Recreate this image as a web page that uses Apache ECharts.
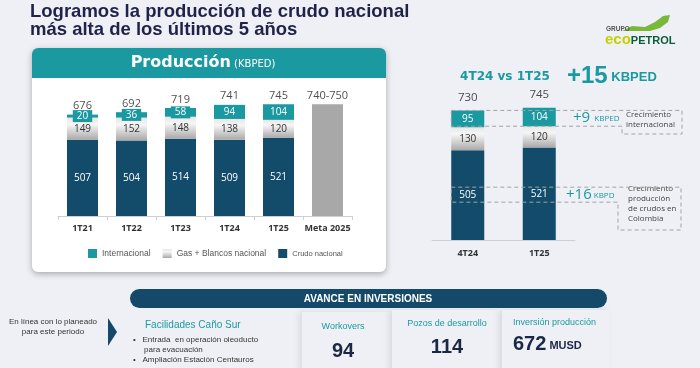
<!DOCTYPE html>
<html><head><meta charset="utf-8">
<script src="https://cdn.jsdelivr.net/npm/echarts@6/dist/echarts.min.js"></script>
<style>html,body{margin:0;padding:0;background:#eef0f5}#c{width:700px;height:368px}</style>
</head><body><div id="c"></div>
<script>
// ---- data: annual first-quarter production (KBPED) ----
const categories = ['1T21', '1T22', '1T23', '1T24', '1T25', 'Meta 2025'];
const crudoNacional = [507, 504, 514, 509, 521, null];
const gasBlancos = [149, 152, 148, 138, 120, null];
const internacional = [20, 36, 58, 94, 104, null];
const meta2025 = [null, null, null, null, null, 745];
const totals = [676, 692, 719, 741, 745, 745];
const totalLabels = ['676', '692', '719', '741', '745', '740-750'];

// ---- data: quarter comparison ----
const qCategories = ['4T24', '1T25'];
const qCrudo = [505, 521];
const qGas = [130, 120];
const qInter = [95, 104];
const qTotals = [730, 745];

const TEAL = '#1b99a1', NAVY = '#134b6a', GRAYBAR = '#a8a8a8';
const gasGrad = new echarts.graphic.LinearGradient(0, 0, 0, 1, [
  {offset: 0, color: '#e6e6e6'}, {offset: 0.3, color: '#f6f6f6'}, {offset: 1, color: '#a9a9a9'}]);
const F = 'Liberation Sans';

const chart = echarts.init(document.getElementById('c'), null, {renderer: 'canvas'});

const innerLbl = (color) => ({show: true, position: 'inside', color: color, fontSize: 10, fontFamily: 'Open Sans'});

const option = {
  backgroundColor: '#eef0f5',
  animation: false,
  textStyle: {fontFamily: F},
  grid: [
    {left: 58, right: 348, top: 96, bottom: 152},
    {left: 432, right: 125, top: 98, bottom: 128}
  ],
  legend: {
    left: 83, top: 244, itemWidth: 9, itemHeight: 9, itemGap: 12, icon: 'rect',
    textStyle: {fontSize: 8.5, color: '#555', fontFamily: F},
    data: ['Internacional', 'Gas + Blancos nacional', {name: 'Crudo nacional', textStyle: {fontSize: 7.5}}]
  },
  xAxis: [
    {type: 'category', gridIndex: 0, data: categories,
     axisLine: {lineStyle: {color: '#cfcfcf'}}, axisTick: {show: true, length: 4, lineStyle: {color: '#cfcfcf'}},
     axisLabel: {interval: 0, fontSize: 9, fontWeight: 'bold', color: '#333', margin: 8, fontFamily: 'Open Sans'}},
    {type: 'category', gridIndex: 1, data: qCategories,
     axisLine: {lineStyle: {color: '#cfcfcf'}}, axisTick: {show: false},
     axisLabel: {interval: 0, fontSize: 9, fontWeight: 'bold', color: '#333', margin: 9, fontFamily: 'Open Sans'}}
  ],
  yAxis: [
    {type: 'value', gridIndex: 0, min: 0, max: 800, show: false},
    {type: 'value', gridIndex: 1, min: 0, max: 800, show: false}
  ],
  series: [
    {name: 'Crudo nacional', type: 'bar', stack: 'a', barWidth: 31, data: crudoNacional,
     itemStyle: {color: NAVY}, label: innerLbl('#fff')},
    {name: 'Gas + Blancos nacional', type: 'bar', stack: 'a', data: gasBlancos,
     itemStyle: {color: gasGrad}, label: innerLbl('#333')},
    {name: 'Internacional', type: 'bar', stack: 'a', data: internacional,
     itemStyle: {color: TEAL},
     label: Object.assign(innerLbl('#fff'), {backgroundColor: TEAL, padding: [1, 4]})},
    {name: 'Meta', type: 'bar', stack: 'a', data: meta2025, itemStyle: {color: GRAYBAR}},
    {name: 'Totales', type: 'scatter', data: totals, symbolSize: 0, silent: true,
     label: {show: true, position: 'top', distance: 3, fontSize: 11, color: '#222', fontFamily: 'Open Sans',
             formatter: p => totalLabels[p.dataIndex]}},

    {name: 'qCrudo', type: 'bar', stack: 'b', xAxisIndex: 1, yAxisIndex: 1, barWidth: 33, data: qCrudo,
     itemStyle: {color: NAVY}, label: innerLbl('#fff')},
    {name: 'qGas', type: 'bar', stack: 'b', xAxisIndex: 1, yAxisIndex: 1, data: qGas,
     itemStyle: {color: gasGrad}, label: innerLbl('#333')},
    {name: 'qInter', type: 'bar', stack: 'b', xAxisIndex: 1, yAxisIndex: 1, data: qInter,
     itemStyle: {color: TEAL}, label: innerLbl('#fff')},
    {name: 'qTotales', type: 'scatter', xAxisIndex: 1, yAxisIndex: 1, data: qTotals, symbolSize: 0, silent: true,
     label: {show: true, position: 'top', distance: 7, fontSize: 11.5, color: '#222', fontFamily: 'Open Sans'}}
  ]
};

const staticGraphics = [
  // title
  {type: 'text', left: 30, top: 2, z: 100, style: {text: 'Logramos la producción de crudo nacional', fontSize: 18.5, fontWeight: 'bold', fill: '#1f2249', fontFamily: F}},
  {type: 'text', left: 30, top: 20, z: 100, style: {text: 'más alta de los últimos 5 años', fontSize: 18.5, fontWeight: 'bold', fill: '#1f2249', fontFamily: F}},
  // logo
  {type: 'polygon', z: 100, shape: {points: [[622,31],[632,26],[645,27],[655,22],[663,16],[670,15],[668,22],[660,28],[650,31],[640,31]]}, style: {fill: '#7ab83a'}},
  {type: 'text', left: 606, top: 26, z: 100, style: {text: 'GRUPO', fontSize: 6.5, fontWeight: 'bold', fill: '#555', fontFamily: F}},
  {type: 'text', left: 605, top: 32, z: 100, style: {text: '{a|eco}{b|PETROL}', fontFamily: F,
     rich: {a: {fontSize: 15, fontWeight: 'bold', fill: '#c5d100'}, b: {fontSize: 11, fontWeight: 'bold', fill: '#0b5d38', padding: [2, 0, 0, 0]}}}},
  // left card
  {type: 'rect', z: 0, shape: {x: 32, y: 48, width: 354, height: 224, r: 6},
   style: {fill: '#fff', shadowBlur: 6, shadowOffsetY: 2, shadowColor: 'rgba(0,0,0,0.3)'}},
  {type: 'rect', z: 1, shape: {x: 32, y: 48, width: 354, height: 30, r: [6, 6, 0, 0]}, style: {fill: TEAL}},
  {type: 'text', x: 203, y: 63, z: 100, style: {text: '{a|Producción}{b| (KBPED)}', align: 'center', verticalAlign: 'middle',
     rich: {a: {fontSize: 16, fontWeight: 'bold', fill: '#fff', fontFamily: 'DejaVu Sans'}, b: {fontSize: 10, fill: '#fff', fontFamily: 'DejaVu Sans', padding: [2, 0, 0, 0]}}}},
  // right header
  {type: 'text', x: 505, y: 77, z: 100, style: {text: '4T24 vs 1T25', align: 'center', verticalAlign: 'middle', fontSize: 12, fontWeight: 'bold', fill: TEAL, fontFamily: 'DejaVu Sans'}},
  {type: 'text', x: 567, y: 76, z: 100, style: {text: '{a|+15}{b| KBPED}', verticalAlign: 'middle',
     rich: {a: {fontSize: 24, fontWeight: 'bold', fill: TEAL, fontFamily: F}, b: {fontSize: 13, fontWeight: 'bold', fill: TEAL, fontFamily: F, padding: [3, 0, 0, 0]}}}},
  // right annotation texts
  {type: 'text', x: 573, y: 118, z: 100, style: {text: '{a|+9}{b|  KBPED}', verticalAlign: 'middle',
     rich: {a: {fontSize: 15, fill: TEAL, fontFamily: 'Open Sans'}, b: {fontSize: 8, fill: TEAL, fontFamily: 'Open Sans', padding: [2, 0, 0, 0]}}}},
  {type: 'text', left: 626, top: 110, z: 100, style: {text: 'Crecimiento\ninternacional', fontSize: 8, lineHeight: 10, fill: '#444', fontFamily: 'Open Sans'}},
  {type: 'text', x: 566, y: 195, z: 100, style: {text: '{a|+16}{b| KBPD}', verticalAlign: 'middle',
     rich: {a: {fontSize: 15, fill: TEAL, fontFamily: 'Open Sans'}, b: {fontSize: 8, fill: TEAL, fontFamily: 'Open Sans', padding: [2, 0, 0, 0]}}}},
  {type: 'text', left: 628, top: 184, z: 100, style: {text: 'Crecimiento\nproducción\nde crudos en\nColombia', fontSize: 8, lineHeight: 10, fill: '#444', fontFamily: 'Open Sans'}},
  // bottom band
  {type: 'rect', z: 1, shape: {x: 130, y: 289, width: 477, height: 19, r: 9.5}, style: {fill: '#14496a'}},
  {type: 'text', x: 368, y: 299, z: 100, style: {text: 'AVANCE EN INVERSIONES', align: 'center', verticalAlign: 'middle', fontSize: 10, fontWeight: 'bold', fill: '#fff', fontFamily: F}},
  // panels
  {type: 'rect', z: 0, shape: {x: 302, y: 312, width: 88, height: 60}, style: {fill: '#eef0f5', shadowBlur: 6, shadowOffsetX: -3, shadowColor: 'rgba(40,40,80,0.10)'}},
  {type: 'rect', z: 0, shape: {x: 392, y: 310, width: 108, height: 62}, style: {fill: '#eef0f5', shadowBlur: 6, shadowOffsetX: -3, shadowColor: 'rgba(40,40,80,0.10)'}},
  {type: 'rect', z: 0, shape: {x: 502, y: 310, width: 108, height: 62}, style: {fill: '#eef0f5', shadowBlur: 6, shadowOffsetX: -3, shadowColor: 'rgba(40,40,80,0.10)'}},
  // bottom left
  {type: 'text', x: 53, y: 327, z: 100, style: {text: 'En línea con lo planeado\npara este periodo', align: 'center', verticalAlign: 'middle', fontSize: 8, lineHeight: 10, fill: '#333', fontFamily: F}},
  {type: 'polygon', z: 100, shape: {points: [[108, 318], [117, 332], [108, 346]]}, style: {fill: '#14496a'}},
  {type: 'text', left: 145, top: 320, z: 100, style: {text: 'Facilidades Caño Sur', fontSize: 10, fill: TEAL, fontFamily: F}},
  {type: 'text', left: 133, top: 335, z: 100, style: {text: '•   Entrada  en operación oleoducto\n     para evacuación\n•   Ampliación Estación Centauros', fontSize: 8, lineHeight: 10, fill: '#333', fontFamily: F}},
  // KPIs
  {type: 'text', x: 343, y: 327, z: 100, style: {text: 'Workovers', align: 'center', verticalAlign: 'middle', fontSize: 9, fill: TEAL, fontFamily: F}},
  {type: 'text', x: 343, y: 351, z: 100, style: {text: '94', align: 'center', verticalAlign: 'middle', fontSize: 20, fontWeight: 'bold', fill: '#1c2746', fontFamily: F}},
  {type: 'text', x: 447, y: 324, z: 100, style: {text: 'Pozos de desarrollo', align: 'center', verticalAlign: 'middle', fontSize: 9, fill: TEAL, fontFamily: F}},
  {type: 'text', x: 447, y: 347, z: 100, style: {text: '114', align: 'center', verticalAlign: 'middle', fontSize: 20, fontWeight: 'bold', fill: '#1c2746', fontFamily: F}},
  {type: 'text', x: 513, y: 323, z: 100, style: {text: 'Inversión producción', verticalAlign: 'middle', fontSize: 9, fill: TEAL, fontFamily: F}},
  {type: 'text', x: 513, y: 344, z: 100, style: {text: '{a|672}{b| MUSD}', verticalAlign: 'middle',
     rich: {a: {fontSize: 20, fontWeight: 'bold', fill: '#1c2746', fontFamily: F}, b: {fontSize: 11, fontWeight: 'bold', fill: '#1c2746', fontFamily: F, padding: [4, 0, 0, 0]}}}}
];

option.graphic = {elements: staticGraphics};
chart.setOption(option);

// dashed annotation boxes computed from the quarter data
const px = (cat, v) => chart.convertToPixel({xAxisIndex: 1, yAxisIndex: 1}, [cat, v]);
const half = 16.5;
const xl = px(qCategories[0], 0)[0] - half;
const yTop1 = px(qCategories[0], qTotals[0])[1];
const yBot1 = px(qCategories[1], qCrudo[1] + qGas[1])[1];
const yMid2 = px(qCategories[0], qCrudo[0] / 2)[1];
const dash = {fill: 'none', stroke: '#a3a3a3', lineWidth: 1, lineDash: [4, 3]};
const boxes = [
  {type: 'polygon', z: 100, shape: {points: [[xl, yTop1], [682, yTop1], [682, 134], [622, 134], [622, yBot1], [xl, yBot1]]}, style: dash},
  {type: 'polygon', z: 100, shape: {points: [[xl, yMid2 - 8], [681, yMid2 - 8], [681, 230], [618, 230], [618, yMid2 + 7], [xl, yMid2 + 7]]}, style: dash}
];
chart.setOption({graphic: {elements: staticGraphics.concat(boxes)}}, {replaceMerge: ['graphic']});
</script></body></html>
